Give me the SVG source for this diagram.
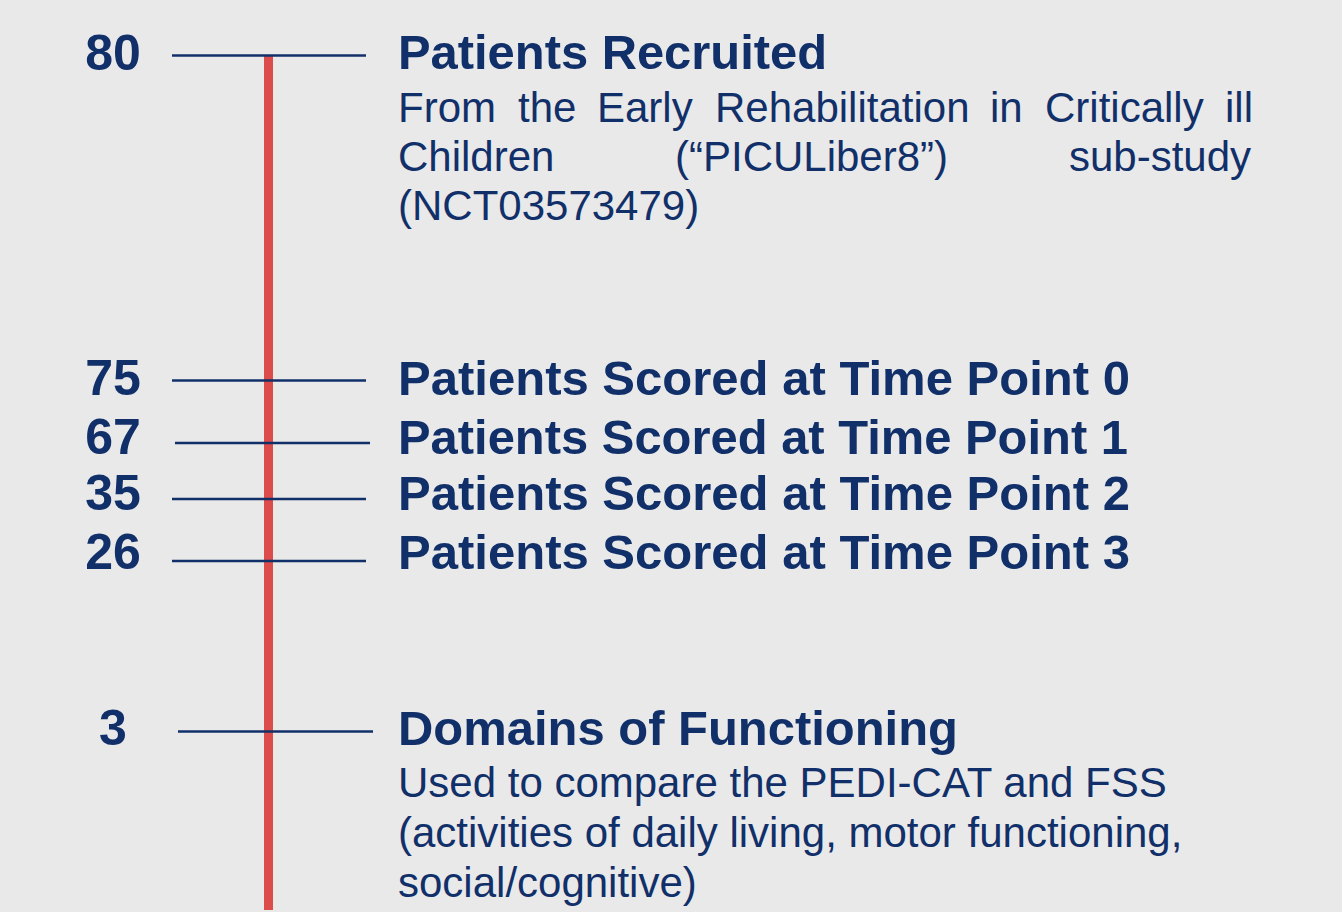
<svg xmlns="http://www.w3.org/2000/svg" width="1342" height="912" viewBox="0 0 1342 912">
<style>
.num{font-family:"Liberation Sans",Arial,sans-serif;font-weight:bold;font-size:50px;fill:#11306a;text-anchor:middle}
.head{font-family:"Liberation Sans",Arial,sans-serif;font-weight:bold;font-size:48.5px;fill:#11306a}
.body{font-family:"Liberation Sans",Arial,sans-serif;font-size:42px;fill:#11306a}
.tick{stroke:#11306a;stroke-width:2.6;fill:none}
</style>
<rect width="1342" height="912" fill="#e9e9e9"/>
<g id="connectors">
<rect id="timeline" x="264" y="56" width="9" height="854" fill="#dc4c4b"/>
<line class="tick" x1="172" y1="55.5" x2="366" y2="55.5"/>
<line class="tick" x1="172" y1="380.5" x2="366" y2="380.5"/>
<line class="tick" x1="175" y1="443" x2="370" y2="443"/>
<line class="tick" x1="172" y1="499" x2="366" y2="499"/>
<line class="tick" x1="172" y1="561" x2="366" y2="561"/>
<line class="tick" x1="178" y1="731.5" x2="373" y2="731.5"/>
</g>
<g id="node-recruited">
<text class="num" x="113" y="70">80</text>
<text class="head" x="398" y="69" textLength="429" lengthAdjust="spacingAndGlyphs">Patients Recruited</text>
<text class="body" y="122"><tspan x="398">From</tspan><tspan x="518">the</tspan><tspan x="597">Early</tspan><tspan x="715">Rehabilitation</tspan><tspan x="990">in</tspan><tspan x="1045">Critically</tspan><tspan x="1225">ill</tspan></text>
<text class="body" y="171"><tspan x="398">Children</tspan><tspan x="675">(“PICULiber8”)</tspan><tspan x="1069">sub-study</tspan></text>
<text class="body" x="398" y="219.5">(NCT03573479)</text>
</g>
<g id="node-tp0">
<text class="num" x="113" y="395">75</text>
<text class="head" x="398" y="395" textLength="732" lengthAdjust="spacingAndGlyphs">Patients Scored at Time Point 0</text>
</g>
<g id="node-tp1">
<text class="num" x="113" y="454">67</text>
<text class="head" x="398" y="454" textLength="730" lengthAdjust="spacingAndGlyphs">Patients Scored at Time Point 1</text>
</g>
<g id="node-tp2">
<text class="num" x="113" y="509.5">35</text>
<text class="head" x="398" y="509.5" textLength="732" lengthAdjust="spacingAndGlyphs">Patients Scored at Time Point 2</text>
</g>
<g id="node-tp3">
<text class="num" x="113" y="568.5">26</text>
<text class="head" x="398" y="568.5" textLength="732" lengthAdjust="spacingAndGlyphs">Patients Scored at Time Point 3</text>
</g>
<g id="node-domains">
<text class="num" x="113" y="745">3</text>
<text class="head" x="398" y="745" textLength="560" lengthAdjust="spacingAndGlyphs">Domains of Functioning</text>
<text class="body" x="398" y="797">Used to compare the PEDI-CAT and FSS</text>
<text class="body" x="398" y="847">(activities of daily living, motor functioning,</text>
<text class="body" x="398" y="897">social/cognitive)</text>
</g>
</svg>
